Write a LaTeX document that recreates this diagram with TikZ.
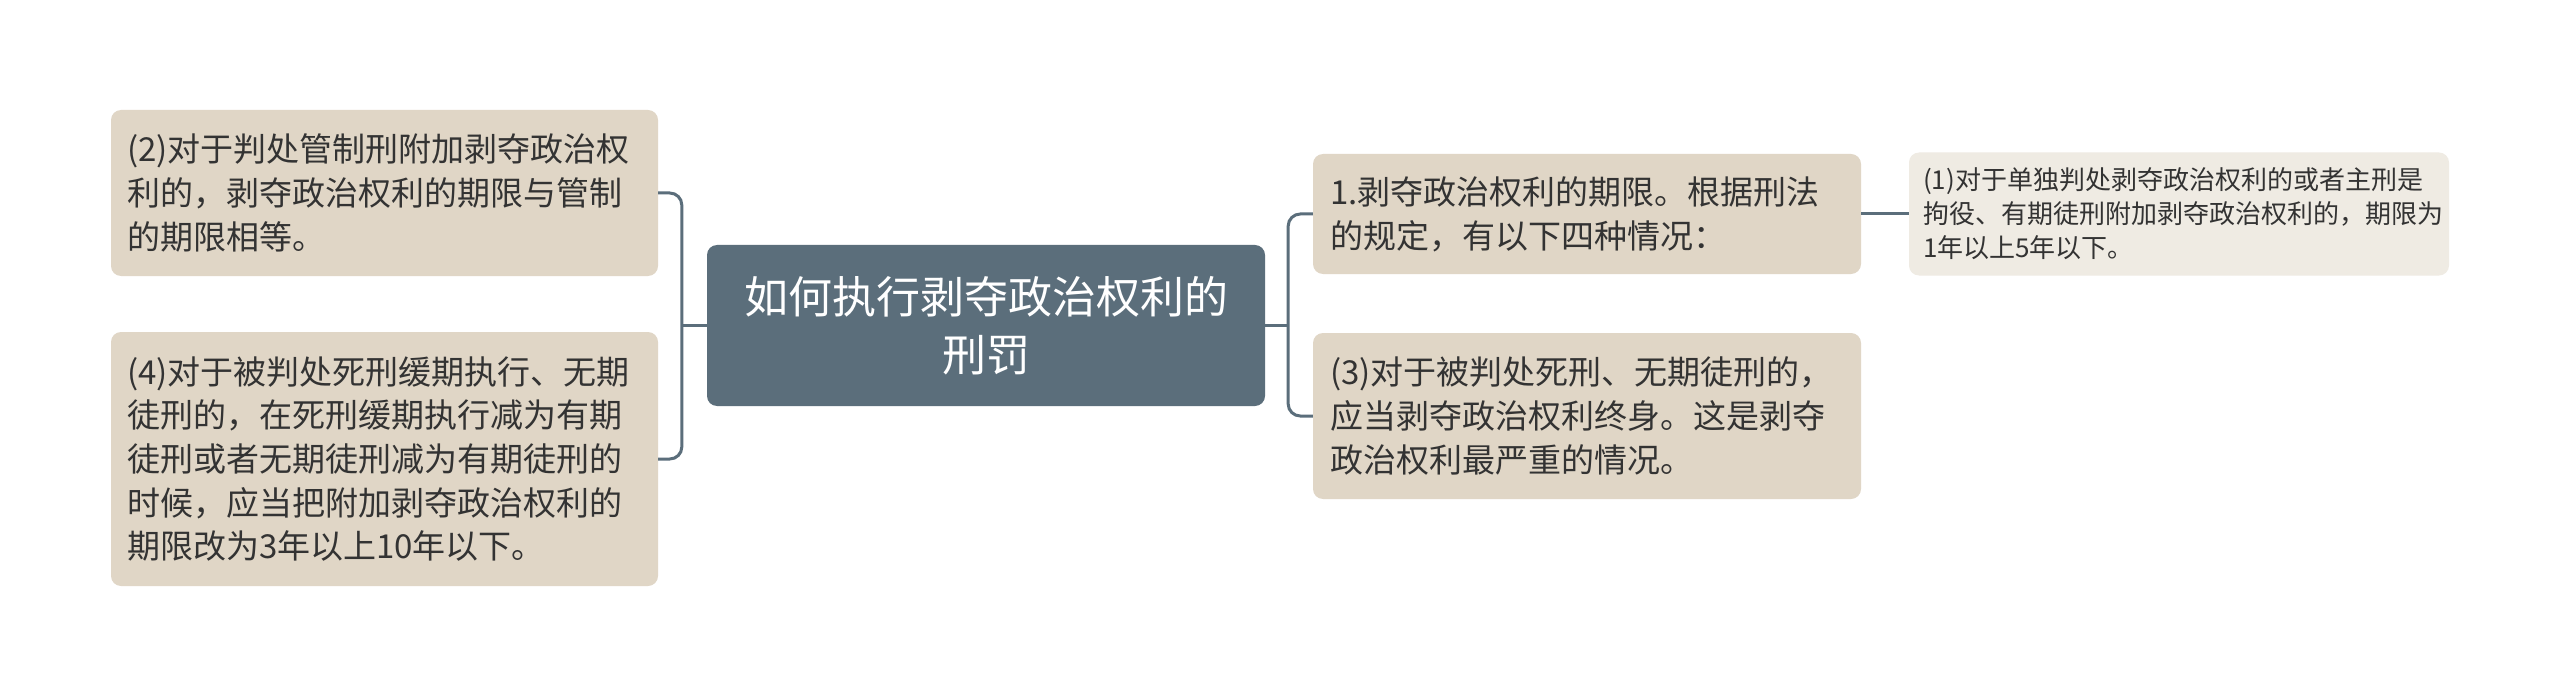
\documentclass[tikz,border=0pt]{standalone}
\usepackage{fontspec}
\setmainfont{Noto Sans CJK SC}
\usetikzlibrary{calc}
\definecolor{slate}{HTML}{5B6E7B}
\definecolor{beige}{HTML}{E0D6C6}
\definecolor{pale}{HTML}{EFEBE3}
\definecolor{ink}{HTML}{333333}
\begin{document}
\begin{tikzpicture}[x=1pt,y=-1pt,
  box/.style={rectangle, rounded corners=10pt, fill=beige, text=ink, align=left, inner ysep=0pt, inner xsep=16pt, font=\fontsize{33}{43.7}\selectfont},
  leafbox/.style={rectangle, rounded corners=10pt, fill=pale, text=ink, align=left, inner ysep=0pt, inner xsep=14pt, font=\fontsize{26}{34}\selectfont},
  rootbox/.style={rectangle, rounded corners=10pt, fill=slate, text=white, align=center, inner ysep=0pt, inner xsep=19pt, font=\fontsize{44}{58}\selectfont},
  conn/.style={draw=slate, line width=3pt}]
\useasboundingbox (0,0) rectangle (2560,695);
\fill[white] (0,0) rectangle (2560,695);

\node[rootbox, text width=520pt, minimum height=161pt] (C) at (986,325.5) {如何执行剥夺政治权利的\\刑罚};

\node[box, text width=515pt, minimum height=166pt] (L1) at (384.5,193) {(2)对于判处管制刑附加剥夺政治权\\利的，剥夺政治权利的期限与管制\\的期限相等。};
\node[box, text width=515pt, minimum height=254pt] (L2) at (384.5,459) {(4)对于被判处死刑缓期执行、无期\\徒刑的，在死刑缓期执行减为有期\\徒刑或者无期徒刑减为有期徒刑的\\时候，应当把附加剥夺政治权利的\\期限改为3年以上10年以下。};

\node[box, text width=514pt, inner xsep=17pt, minimum height=120pt] (R1) at (1587,214) {1.剥夺政治权利的期限。根据刑法\\的规定，有以下四种情况：};
\node[box, text width=514pt, inner xsep=17pt, minimum height=166pt] (R3) at (1587,416) {(3)对于被判处死刑、无期徒刑的，\\应当剥夺政治权利终身。这是剥夺\\政治权利最严重的情况。};

\node[leafbox, text width=512pt, minimum height=123pt] (F) at (2179,214) {(1)对于单独判处剥夺政治权利的或者主刑是\\拘役、有期徒刑附加剥夺政治权利的，期限为\\1年以上5年以下。};

\coordinate (lj) at ($(C.west)+(-25,0)$);
\coordinate (rj) at ($(C.east)+(23,0)$);

\draw[conn, rounded corners=12pt] (L1.east) -| (lj) |- (L2.east);
\draw[conn] (C.west) -- (lj);
\draw[conn, rounded corners=12pt] (R1.west) -| (rj) |- (R3.west);
\draw[conn] (C.east) -- (rj);
\draw[conn] (R1.east) -- (F.west);
\end{tikzpicture}
\end{document}
